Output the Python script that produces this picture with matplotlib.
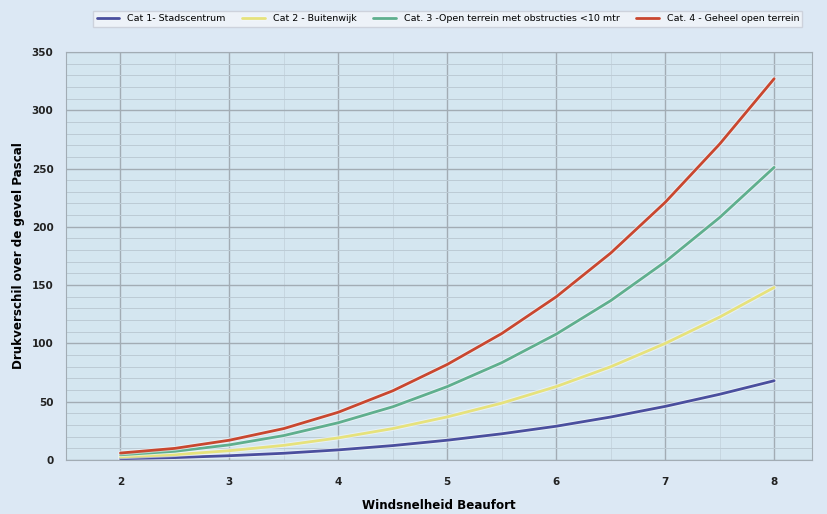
import matplotlib
matplotlib.use('Agg')
import matplotlib.pyplot as plt
import matplotlib.patheffects as pe
from matplotlib.ticker import MultipleLocator

# Beaufort wind force (read at half steps)
beaufort = [2, 2.5, 3, 3.5, 4, 4.5, 5, 5.5, 6, 6.5, 7, 7.5, 8]

cat1 = [1.2, 2.1, 3.7, 5.8, 8.7, 12.4, 17, 22.5, 29, 36.9, 46, 56.4, 68]
cat2 = [2.7, 4.6, 8, 12.6, 19, 27, 37, 48.8, 63, 80, 100, 122.6, 148]
cat3 = [4.5, 7.5, 13, 21, 32, 45.7, 63, 83.5, 108, 136.7, 170, 208, 251]
cat4 = [6, 10, 17, 27, 41, 59.4, 82, 108.5, 140, 177.5, 221, 271, 327]

labels = ['Cat 1- Stadscentrum', 'Cat 2 - Buitenwijk',
          'Cat. 3 -Open terrein met obstructies <10 mtr',
          'Cat. 4 - Geheel open terrein']
colors = ['#4a4f9e', '#e6e27c', '#5faf8e', '#c9472f']
series = [cat1, cat2, cat3, cat4]


def main():
    fig = plt.figure(figsize=(8.28, 5.14), dpi=100)
    fig.patch.set_facecolor('#dce8f4')
    ax = fig.add_axes([0.0797, 0.105, 0.9013, 0.794])
    ax.set_facecolor('#d4e6f0')

    for y, lab, c in zip(series, labels, colors):
        ax.plot(beaufort, y, color=c, lw=2.0, label=lab, solid_capstyle='round',
                solid_joinstyle='round',
                path_effects=[pe.Stroke(linewidth=3.4, foreground='#f4f8fb', alpha=0.6), pe.Normal()])

    ax.set_xlim(1.5, 8.35)
    ax.set_ylim(0, 350)
    ax.xaxis.set_major_locator(MultipleLocator(1))
    ax.yaxis.set_major_locator(MultipleLocator(50))
    ax.yaxis.set_minor_locator(MultipleLocator(10))
    ax.xaxis.set_minor_locator(MultipleLocator(0.5))
    ax.grid(True, which='major', color='#a2acb4', lw=1.0)
    ax.grid(True, which='minor', axis='y', color='#bccbd5', lw=0.7)
    ax.grid(True, which='minor', axis='x', color='#c4d4de', lw=0.6)
    ax.set_axisbelow(True)

    for s in ax.spines.values():
        s.set_color('#a2acb4')
    ax.tick_params(which='both', length=0, labelsize=7.5, colors='#222222')
    ax.tick_params(axis='x', pad=12)
    ax.tick_params(axis='y', pad=9)
    for t in ax.get_xticklabels() + ax.get_yticklabels():
        t.set_fontweight('bold')

    ax.set_xlabel('Windsnelheid Beaufort', fontsize=8.6, fontweight='bold', labelpad=9)
    ax.set_ylabel('Drukverschil over de gevel Pascal', fontsize=8.6, fontweight='bold', labelpad=5)

    leg = fig.legend(loc='upper center', bbox_to_anchor=(0.541, 0.988), ncol=4,
                     fontsize=6.8, frameon=True, fancybox=False, handlelength=2.4,
                     columnspacing=1.8, borderpad=0.35)
    leg.get_frame().set_facecolor('#f2f5fa')
    leg.get_frame().set_edgecolor('#c8ccd6')

    fig.savefig('out.png', dpi=100, facecolor=fig.get_facecolor())


if __name__ == '__main__':
    main()
